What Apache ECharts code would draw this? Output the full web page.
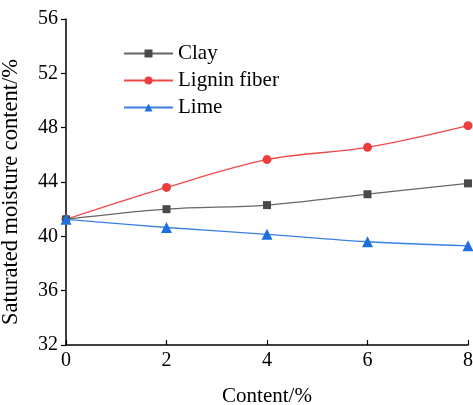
<!DOCTYPE html>
<html>
<head>
<meta charset="utf-8">
<script src="https://cdn.jsdelivr.net/npm/echarts@6/dist/echarts.min.js"></script>
<style>
  html, body { margin: 0; padding: 0; background: #fff; }
  #chart { width: 473px; height: 405px; }
</style>
</head>
<body>
<div id="chart"></div>
<script>
// Admixture content (%) on the x axis
const contents = [0, 2, 4, 6, 8];
// Saturated moisture content (%) for each admixture
const clay = [41.25, 42.0, 42.3, 43.1, 43.9];
const ligninFiber = [41.25, 43.6, 45.65, 46.55, 48.15];
const lime = [41.25, 40.65, 40.15, 39.6, 39.3];

const seriesNames = ['Clay', 'Lignin fiber', 'Lime'];
const xTicks = [0, 2, 4, 6, 8];
const yTicks = [32, 36, 40, 44, 48, 52, 56];

const font = '"Liberation Serif", "Times New Roman", serif';

const pairs = vals => contents.map((c, i) => [c, vals[i]]);

const chart = echarts.init(document.getElementById('chart'), null, { renderer: 'canvas' });

chart.setOption({
  animation: false,
  backgroundColor: '#ffffff',
  grid: {
    left: 66, right: 5, top: 19, bottom: 60,
    containLabel: false,
    outerBoundsMode: 'none'
  },
  legend: {
    orient: 'vertical',
    left: 123,
    top: 43,
    padding: 0,
    itemWidth: 49,
    itemHeight: 10,
    itemGap: 6,
    textStyle: { fontFamily: font, fontSize: 21, color: '#000' },
    data: seriesNames
  },
  xAxis: {
    type: 'value',
    min: xTicks[0],
    max: xTicks[xTicks.length - 1],
    interval: 2,
    name: 'Content/%',
    nameLocation: 'middle',
    nameGap: 41,
    nameTextStyle: { fontFamily: font, fontSize: 21, color: '#000' },
    axisLine: { show: true, lineStyle: { color: '#000', width: 1.5 } },
    axisTick: { show: true, inside: true, length: 5, lineStyle: { color: '#000', width: 1.2 } },
    axisLabel: { fontFamily: font, fontSize: 20, color: '#000', margin: 6 },
    splitLine: { show: false }
  },
  yAxis: {
    type: 'value',
    min: yTicks[0],
    max: yTicks[yTicks.length - 1],
    interval: 4,
    name: 'Saturated moisture content/%',
    nameLocation: 'middle',
    nameGap: 43,
    nameTextStyle: { fontFamily: font, fontSize: 22.5, color: '#000', padding: [0, 20, 0, 0] },
    axisLine: { show: true, lineStyle: { color: '#000', width: 1.5 } },
    axisTick: { show: true, inside: false, length: 5, lineStyle: { color: '#000', width: 1.2 } },
    axisLabel: { fontFamily: font, fontSize: 20, color: '#000', margin: 8 },
    splitLine: { show: false }
  },
  series: [
    {
      name: seriesNames[0],
      type: 'line',
      data: pairs(clay),
      smooth: 0.35,
      symbol: 'rect',
      symbolSize: 8,
      z: 3,
      itemStyle: { color: '#4a4a4a' },
      lineStyle: { color: '#666666', width: 1.3 }
    },
    {
      name: seriesNames[1],
      type: 'line',
      data: pairs(ligninFiber),
      smooth: 0.35,
      symbol: 'circle',
      symbolSize: 9,
      z: 2,
      itemStyle: { color: '#ee3d3d' },
      lineStyle: { color: '#f04848', width: 1.3 }
    },
    {
      name: seriesNames[2],
      type: 'line',
      data: pairs(lime),
      smooth: 0.35,
      symbol: 'triangle',
      symbolSize: 11,
      z: 4,
      itemStyle: { color: '#1f6fdc' },
      lineStyle: { color: '#3a80e4', width: 1.3 }
    }
  ]
});
</script>
</body>
</html>
